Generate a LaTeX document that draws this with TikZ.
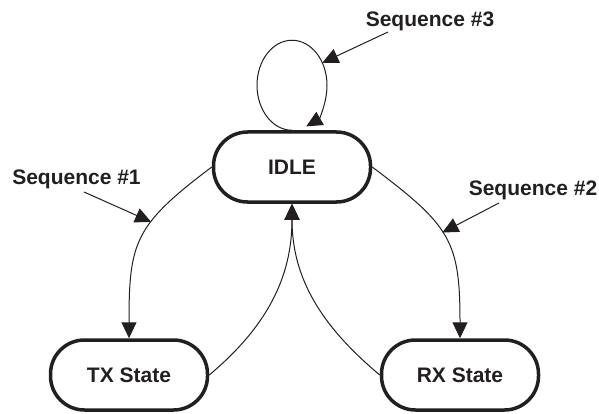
\documentclass[tikz,border=0pt]{standalone}
\usepackage{fontspec}
\setmainfont{Liberation Sans}
\usepackage{xcolor}
\usetikzlibrary{arrows.meta,calc,positioning}
\definecolor{ink}{RGB}{35,31,32}

\begin{document}
\begin{tikzpicture}[x=0.5pt, y=0.5pt, >={Triangle[length=8pt,width=7.5pt]}, font=\bfseries\fontsize{10.5}{12}\selectfont]
        \tikzstyle{state} = [rectangle, draw=ink, line width=1.75pt, rounded corners=17pt, minimum width=78.5pt, minimum height=35pt, text=ink, inner sep=0pt]
        \tikzstyle{line} = [draw=ink, line width=0.5pt, ->]
        \tikzstyle{tag} = [text=ink, inner sep=0pt, anchor=base]
        \useasboundingbox (0,0) rectangle (599,413);

        % States
        \node [state] (idle) at (292,246) {IDLE};
        \node [state] (tx) at (129,38) {TX State};
        \node [state] (rx) at (460,38) {RX State};

        % Sequence labels
        \node [tag] (seq1) at (76.5,229) {Sequence \#1};
        \node [tag] (seq2) at (533,218) {Sequence \#2};
        \node [tag] (seq3) at (430,386) {Sequence \#3};

        % Transitions
        \path [line] (idle.west) to[out=217, in=90, looseness=1.3] coordinate[pos=0.38] (s1) (tx.north);
        \path [line] (idle.east) to[out=-37, in=90, looseness=1.3] coordinate[pos=0.46] (s2) (rx.north);
        \path [line] (tx.east) to[out=40, in=-90] (idle.south);
        \path [line] (rx.west) to[out=140, in=-90] (idle.south);
        \path [line] (idle.north) arc[start angle=-90, end angle=-426, x radius=35, y radius=45];
        \coordinate (s3) at ($(idle.north)+(0,45)+(30:35 and 45)$);

        % Label pointers
        \path [line] ([shift={(3.75pt,-4pt)}]seq1.base) -- (s1);
        \path [line] ([shift={(-17pt,-4pt)}]seq2.base) -- (s2);
        \path [line] ([shift={(-21pt,-2.5pt)}]seq3.base) -- (s3);
\end{tikzpicture}
\end{document}
